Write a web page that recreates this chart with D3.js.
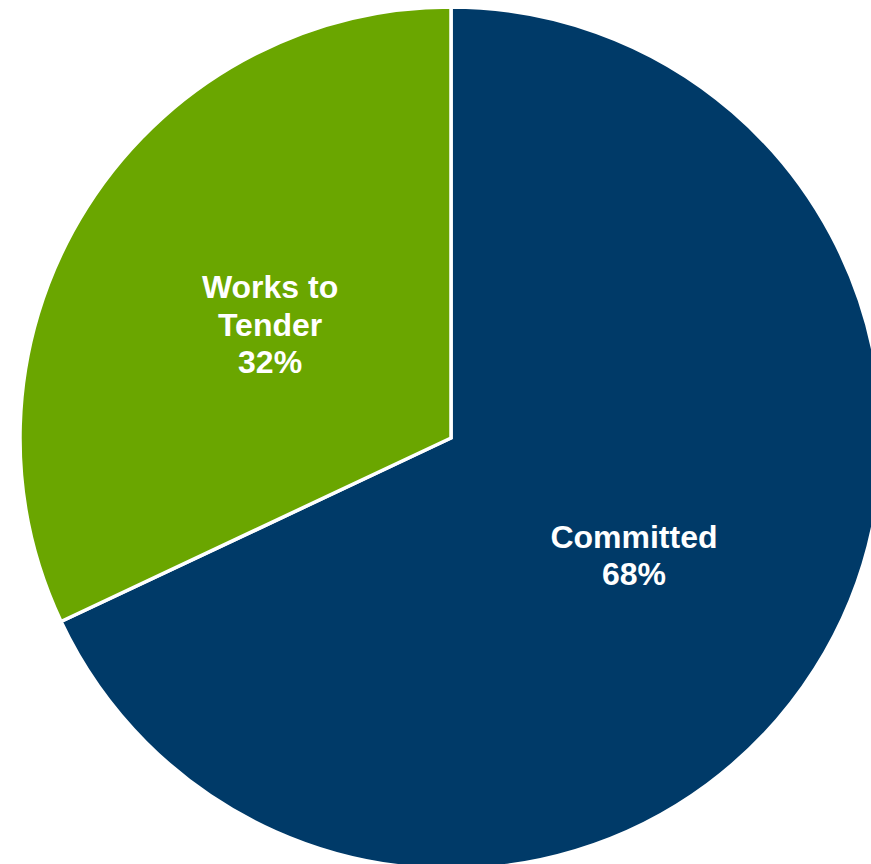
<!DOCTYPE html>
<html>
<head>
<meta charset="utf-8">
<script src="https://cdn.jsdelivr.net/npm/d3@7"></script>
<style>
  body { margin: 0; background: #fff; }
  svg { display: block; }
</style>
</head>
<body>
<svg width="871" height="864"></svg>
<script>
const categories = ['Committed', 'Works to Tender'];
const values = [68, 32];
const labelLines = [['Committed', '68%'], ['Works to', 'Tender', '32%']];
const colors = ['#003a68', '#6aa600'];

const svg = d3.select('svg');

const radius = 431;

const g = svg.append('g')
    .attr('transform', `translate(451, 438)`);

const pie = d3.pie().sort(null);
const arcs = pie(values);

const arc = d3.arc()
    .innerRadius(0)
    .outerRadius(radius);

g.selectAll('path')
  .data(arcs)
  .join('path')
    .attr('d', arc)
    .attr('fill', (d, i) => colors[i])
    .attr('stroke', '#fff')
    .attr('stroke-width', 3.5)
    .attr('stroke-linejoin', 'miter');

const lineHeight = 37.5;

arcs.forEach((d, i) => {
  const [cx, cy] = arc.centroid(d);
  const lines = labelLines[i];
  const text = g.append('text')
      .attr('text-anchor', 'middle')
      .attr('font-family', 'Liberation Sans, Arial, sans-serif')
      .attr('font-weight', 'bold')
      .attr('font-size', 32)
      .attr('fill', '#fff');
  lines.forEach((line, j) => {
    text.append('tspan')
        .attr('x', cx + 1)
        .attr('y', cy + 2 + (j - (lines.length - 1) / 2) * lineHeight)
        .attr('dominant-baseline', 'central')
        .text(line);
  });
});
</script>
</body>
</html>
